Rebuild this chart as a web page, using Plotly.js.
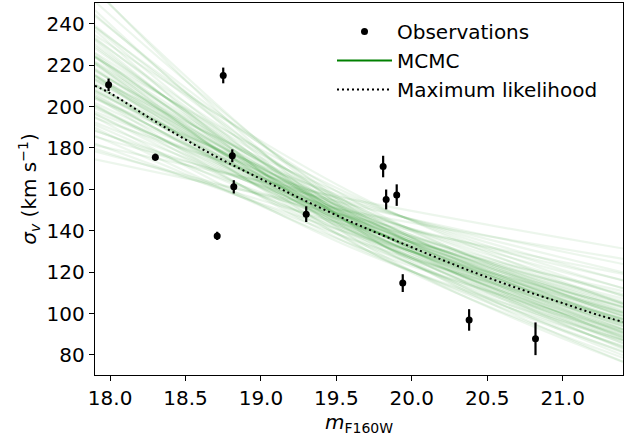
<!DOCTYPE html>
<html>
<head>
<meta charset="utf-8">
<script src="https://cdn.plot.ly/plotly-3.0.1.min.js"></script>
<style>html,body{margin:0;padding:0;background:#fff;}#chart{width:637px;height:437px;}</style>
</head>
<body>
<div id="chart"></div>
<script>
// Observations
const obsMag   = [17.99, 18.30, 18.71, 18.75, 18.81, 18.82, 19.30, 19.81, 19.83, 19.90, 19.94, 20.38, 20.82];
const obsSigma = [210.5, 175.5, 137.5, 215.0, 176.2, 161.2, 148.0, 171.0, 155.1, 157.2, 114.7, 96.9, 87.8];
const obsErr   = [3.0, 1.7, 2.0, 3.8, 3.1, 3.2, 3.8, 5.2, 4.8, 5.2, 4.3, 5.2, 7.9];

// Maximum likelihood curve
const mlMag   = [17.9, 18.0, 18.25, 18.5, 18.75, 19.0, 19.25, 19.5, 19.75, 20.0, 20.25, 20.5, 20.75, 21.0, 21.25, 21.4];
const mlSigma = [210, 206.5, 195, 184, 174, 165, 156, 147.5, 139.5, 132, 124.5, 117.5, 111, 105, 99, 96];

// MCMC draws: sigma read at the left edge, middle and right edge of the plot
const mcmcMag = [17.9, 19.65, 21.4];
const mcmcLeft  = [178.3,179.6,188.2,194.4,182.1,188.5,192.3,197.4,203.8,185.9,191.2,196.4,199.1,201.7,207.0,213.6,
  189.7,196.5,200.6,204.7,207.4,210.1,212.9,217.0,223.8,194.9,200.6,206.2,210.5,213.3,214.7,217.5,221.8,226.0,234.5,
  204.7,210.6,214.9,217.9,220.8,223.7,228.1,232.5,238.3,214.9,221.0,225.5,230.1,233.1,239.1,243.7,
  224.1,231.9,238.2,244.4,250.7,236.8,246.5,256.2,256.9,
  174.5,181.4,185.4,205.4,208.2,209.6,212.4,215.1,211.2,215.6,218.4,221.3,224.2,199.9,203.9,207.9,220.2,224.6,229.1];
const mcmcMid   = [145.7,141.1,147.8,152.6,137.4,142.2,145.0,148.9,153.7,134.7,138.5,142.3,144.2,146.1,149.9,154.7,
  132.0,136.7,139.6,142.4,144.3,146.2,148.1,151.0,155.7,130.3,134.1,137.8,140.7,142.6,143.5,145.4,148.2,151.1,156.7,
  131.4,135.2,138.0,139.9,141.7,143.6,146.4,149.2,153.0,132.5,136.3,139.1,141.9,143.7,147.5,150.3,
  132.7,137.3,141.0,144.8,148.5,134.7,140.2,145.8,140.3,
  148.5,154.4,151.6,140.1,142.0,143.0,144.9,146.8,138.4,141.2,143.1,145.0,146.9,141.9,144.7,147.6,138.5,141.3,144.1];
const mcmcRight = [119.1,110.8,116.1,119.9,103.6,107.2,109.4,112.3,115.9,97.5,100.3,103.1,104.5,105.8,108.6,112.1,
  91.8,95.1,97.1,99.1,100.4,101.7,103.1,105.1,108.4,87.1,89.6,92.1,94.0,95.3,95.9,97.2,99.1,101.0,104.7,
  84.4,86.8,88.6,89.8,91.0,92.2,94.0,95.8,98.2,81.7,84.0,85.7,87.5,88.6,90.9,92.6,
  78.6,81.3,83.5,85.7,87.9,76.6,79.8,82.9,76.7,
  126.4,131.4,123.9,95.6,96.9,97.5,98.8,100.1,90.6,92.5,93.7,95.0,96.2,100.7,102.8,104.8,87.1,88.9,90.7];

const xTicks = [18.0, 18.5, 19.0, 19.5, 20.0, 20.5, 21.0];
const yTicks = [80, 100, 120, 140, 160, 180, 200, 220, 240];

const green = '#008000';
const traces = [];
for (let i = 0; i < mcmcLeft.length; i++) {
  traces.push({
    x: mcmcMag, y: [mcmcLeft[i], mcmcMid[i], mcmcRight[i]],
    type: 'scatter', mode: 'lines',
    line: {color: green, width: 2.2, shape: 'spline'},
    opacity: 0.075, showlegend: false, hoverinfo: 'skip'
  });
}
traces.push({
  x: [null], y: [null], type: 'scatter', mode: 'lines', name: 'MCMC',
  line: {color: green, width: 2}, legendrank: 2, legendgroup: 'b'
});
traces.push({
  x: mlMag, y: mlSigma, type: 'scatter', mode: 'lines', name: 'Maximum likelihood',
  line: {color: '#000', width: 2, dash: '2px,3px', shape: 'spline'}, legendrank: 3, legendgroup: 'c'
});
traces.push({
  x: obsMag, y: obsSigma, type: 'scatter', mode: 'markers', name: 'Observations',
  marker: {color: '#000', size: 7},
  error_y: {type: 'data', array: obsErr, visible: true, color: '#000', thickness: 2.2, width: 0},
  legendrank: 1, legendgroup: 'a'
});

const fam = 'DejaVu Sans, sans-serif';
const layout = {
  width: 637, height: 437,
  margin: {l: 95, r: 14, t: 3, b: 62},
  paper_bgcolor: '#fff', plot_bgcolor: '#fff',
  font: {family: fam, size: 20, color: '#000'},
  showlegend: true,
  legend: {x: (332 - 95) / 528, y: 0.976, xanchor: 'left', yanchor: 'top', bgcolor: 'rgba(0,0,0,0)',
           itemwidth: 55, font: {family: fam, size: 20, color: '#000'}, tracegroupgap: 0},
  xaxis: {
    range: [17.9, 21.4], tickvals: xTicks, ticktext: xTicks.map(v => v.toFixed(1)),
    ticks: 'outside', ticklen: 5, tickwidth: 1.1, tickcolor: '#000',
    showline: true, linecolor: '#000', linewidth: 1.2, mirror: true,
    showgrid: false, zeroline: false, tickfont: {family: fam, size: 20},
    title: {text: '<i>m</i><sub>F160W</sub>', font: {family: fam, size: 20}, standoff: 1}
  },
  yaxis: {
    range: [70.3, 250], tickvals: yTicks, automargin: true,
    ticks: 'outside', ticklen: 5, tickwidth: 1.1, tickcolor: '#000',
    showline: true, linecolor: '#000', linewidth: 1.2, mirror: true,
    showgrid: false, zeroline: false, tickfont: {family: fam, size: 20},
    title: {text: '<i>σ</i><sub><i>v</i></sub> (km s<sup>−1</sup>)', font: {family: fam, size: 20}, standoff: 4}
  }
};
Plotly.newPlot('chart', traces, layout, {displayModeBar: false, staticPlot: true});
</script>
</body>
</html>
